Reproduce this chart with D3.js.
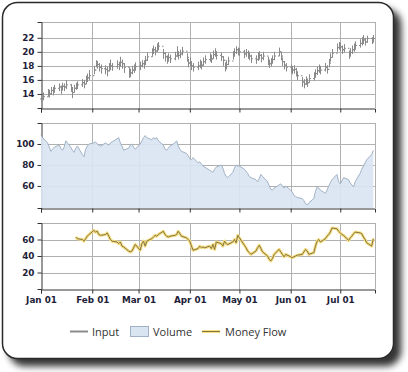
<!DOCTYPE html>
<html>
<head>
<meta charset="utf-8">
<script src="https://cdn.jsdelivr.net/npm/d3@7"></script>
<style>
  html, body { margin: 0; padding: 0; background: #fff; }
  svg { display: block; }
</style>
</head>
<body>
<div id="chart"></div>
<script>
/** Data (one value per trading day, Jan 1 - Jul 21) **/
const startDate = new Date(2009, 0, 1);
const endDate = new Date(2009, 6, 22);

const inputClose = [
  13.3, 13.6, 14.2, 14.0, 14.5, 14.3, 14.8, 15.0, 14.6, 15.1, 15.0, 15.3, 14.9, 14.2, 14.8, 15.1, 15.3, 15.6, 15.4, 16.0, 16.3, 16.6,
  17.4, 18.3, 18.2, 17.8, 17.6, 17.5, 17.3, 17.8, 18.0, 17.9, 18.2, 18.0, 18.5, 18.3, 17.8, 17.2, 17.0, 17.4, 17.6, 17.9,
  18.0, 18.3, 18.2, 18.8, 19.3, 19.9, 20.3, 20.1, 20.6, 20.8, 19.8, 19.3, 18.9, 19.2, 19.0, 19.4, 19.9, 19.5, 19.7, 20.1, 19.2, 18.4,
  18.6, 18.0, 17.8, 18.0, 18.3, 18.1, 18.6, 18.9, 19.2, 19.0, 19.6, 19.9, 19.5, 19.3, 18.8, 17.9, 18.2, 18.7, 19.5, 19.9, 20.3, 20.1,
  20.0, 19.7, 19.9, 19.6, 19.4, 19.0, 18.9, 19.3, 19.5, 19.1, 19.4, 18.7, 18.3, 18.5, 18.9, 19.4, 20.0, 19.4, 18.6, 18.1, 17.8,
  17.6, 17.4, 17.5, 17.1, 16.6, 15.7, 15.4, 15.9, 15.6, 16.2, 16.5, 16.9, 17.3, 17.6, 17.4, 17.8, 17.5, 18.4, 19.2, 19.8, 20.6, 20.9,
  20.7, 20.3, 20.5, 19.6, 19.9, 20.3, 20.6, 20.9, 21.2, 21.5, 21.7, 21.4, 21.9, 21.6, 21.9
];
const inputHigh = [
  13.8, 14.2, 14.7, 14.6, 15.0, 15.0, 15.3, 15.5, 15.2, 15.6, 15.5, 16.0, 15.4, 15.0, 15.3, 15.6, 15.8, 16.1, 16.0, 16.6, 16.9, 17.4,
  18.0, 18.8, 18.7, 18.4, 18.2, 18.1, 17.9, 18.4, 18.9, 18.4, 18.8, 18.6, 19.3, 18.9, 18.4, 17.8, 17.6, 18.0, 18.2, 18.5,
  18.6, 18.8, 18.8, 19.4, 19.9, 20.5, 20.9, 20.7, 21.2, 21.4, 20.4, 19.9, 19.5, 19.8, 19.6, 20.0, 20.8, 20.1, 20.3, 20.7, 19.8, 19.0,
  19.2, 18.6, 18.4, 18.6, 18.9, 18.7, 19.2, 19.5, 19.8, 19.6, 20.2, 20.5, 20.1, 19.9, 19.4, 18.5, 18.8, 19.3, 20.1, 20.5, 20.8, 20.6,
  20.5, 20.3, 20.4, 20.2, 20.0, 19.6, 19.5, 19.9, 20.1, 19.7, 20.0, 19.3, 18.9, 19.1, 19.5, 20.0, 20.6, 20.0, 19.2, 18.7, 18.4,
  18.2, 18.0, 18.1, 17.7, 17.2, 16.4, 16.1, 16.5, 16.2, 16.8, 17.1, 17.5, 17.9, 18.2, 18.0, 18.4, 18.1, 19.0, 19.8, 20.4, 21.2, 21.4,
  21.3, 20.9, 21.1, 20.2, 20.5, 20.9, 21.2, 21.5, 21.8, 22.1, 22.4, 22.0, 22.3, 22.1, 22.4
];
const inputLow = [
  12.9, 13.1, 13.6, 13.5, 13.9, 13.8, 14.2, 14.4, 14.0, 14.5, 14.4, 14.7, 14.3, 13.4, 14.2, 14.6, 14.7, 15.0, 14.8, 15.4, 15.7, 16.0,
  16.8, 17.8, 17.6, 17.2, 16.9, 16.8, 16.5, 17.2, 17.4, 17.3, 17.6, 17.4, 17.9, 17.6, 17.0, 16.3, 16.4, 16.8, 17.0, 17.3,
  17.4, 17.8, 17.6, 18.2, 18.7, 19.3, 19.7, 19.5, 20.0, 20.2, 19.0, 18.6, 18.3, 18.6, 18.4, 18.8, 19.3, 18.9, 19.1, 19.5, 18.6, 17.8,
  18.0, 17.4, 17.2, 17.4, 17.7, 17.5, 18.0, 18.3, 18.6, 18.4, 19.0, 19.3, 18.9, 18.7, 18.0, 17.2, 17.5, 18.1, 18.9, 19.3, 19.7, 19.5,
  19.4, 19.1, 19.3, 19.0, 18.8, 18.4, 18.3, 18.7, 18.9, 18.5, 18.8, 18.1, 17.7, 17.9, 18.3, 18.8, 19.4, 18.8, 18.0, 17.5, 17.2,
  17.0, 16.8, 16.9, 16.5, 16.0, 15.0, 14.8, 15.3, 15.0, 15.6, 15.9, 16.3, 16.7, 17.0, 16.8, 17.2, 16.9, 17.8, 18.6, 19.2, 20.0, 20.3,
  20.1, 19.7, 19.9, 19.0, 19.3, 19.7, 20.0, 20.3, 20.6, 20.9, 21.1, 20.9, 21.3, 21.1, 21.3
];
const volume = [
  108, 106, 101, 97, 93, 95, 97, 99, 96, 94, 97, 103, 97, 94, 92, 96, 98, 90, 88, 95, 98, 100,
  101, 102, 100, 99, 98, 101, 100, 99, 101, 102, 105, 106, 101, 98, 94, 96, 99, 100, 97, 95,
  100, 103, 106, 108, 106, 104, 106, 105, 106, 103, 99, 95, 94, 96, 98, 101, 103, 98, 95, 93, 91, 89,
  86, 85, 87, 82, 83, 81, 79, 78, 75, 74, 73, 76, 78, 80, 77, 72, 69, 68, 73, 77, 80, 79,
  79, 76, 74, 72, 69, 68, 66, 64, 67, 71, 69, 64, 60, 57, 56, 58, 61, 62, 60, 58, 60,
  56, 54, 51, 50, 49, 48, 46, 43, 42, 44, 48, 55, 59, 58, 56, 53, 56, 60, 63, 66, 71, 64,
  62, 65, 68, 66, 63, 61, 59, 64, 72, 76, 79, 82, 85, 90, 94
];
const moneyFlow = [
  null, null, null, null, null, null, null, null, null, null, null, null, null, null, null, 63, 61, 60, 58, 61, 64, 66,
  71, 69, 70, 66, 65, 66, 68, 64, 60, 58, 57, 55, 57, 52, 51, 46, 45, 46, 50, 54,
  47, 55, 58, 52, 58, 61, 63, 65, 64, 66, 70, 66, 64, 63, 64, 65, 66, 70, 67, 64, 62, 60,
  58, 52, 47, 49, 52, 50, 51, 50, 52, 49, 54, 48, 57, 55, 52, 58, 55, 54, 57, 60, 56, 65,
  62, 53, 50, 46, 44, 42, 46, 50, 53, 49, 45, 40, 36, 34, 37, 42, 48, 45, 42, 39, 42,
  39, 38, 39, 40, 41, 42, 45, 48, 46, 42, 44, 52, 58, 60, 57, 61, 64, 66, 69, 74, 73, 70,
  68, 66, 65, 59, 62, 64, 67, 69, 68, 67, 63, 60, 56, 52, 61
];

const inputTicks = [14, 16, 18, 20, 22];
const volumeTicks = [60, 80, 100];
const flowTicks = [20, 40, 60];
const legendLabels = ['Input', 'Volume', 'Money Flow'];

/** Trading days: weekdays in the range **/
const days = d3.timeDay
  .range(startDate, endDate)
  .filter((d) => d.getDay() !== 0 && d.getDay() !== 6);
if (days.length !== inputClose.length) console.warn('length mismatch', days.length, inputClose.length);

const rows = days.map((date, i) => ({
  date,
  close: inputClose[i],
  high: inputHigh[i],
  low: inputLow[i],
  open: i > 0 ? inputClose[i - 1] : inputClose[i],
  volume: volume[i],
  flow: moneyFlow[i],
}));

/** Svg, card and shadow **/
const W = 408, H = 372;
const svg = d3.select('#chart').append('svg').attr('width', W).attr('height', H);

const defs = svg.append('defs');
const shadow = defs.append('filter').attr('id', 'shadow')
  .attr('x', '-10%').attr('y', '-10%').attr('width', '125%').attr('height', '125%');
shadow.append('feGaussianBlur').attr('in', 'SourceAlpha').attr('stdDeviation', 3.5);
shadow.append('feOffset').attr('dx', 7).attr('dy', 7).attr('result', 'off');
shadow.append('feComponentTransfer').append('feFuncA').attr('type', 'linear').attr('slope', 0.8);
const merge = shadow.append('feMerge');
merge.append('feMergeNode');
merge.append('feMergeNode').attr('in', 'SourceGraphic');

svg.append('rect')
  .attr('x', 2.5).attr('y', 2.5).attr('width', 391).attr('height', 356)
  .attr('rx', 15).attr('ry', 15)
  .attr('fill', '#fff').attr('stroke', '#2a2a2a').attr('stroke-width', 1.5)
  .attr('filter', 'url(#shadow)');

/** Shared x scale **/
const left = 41, right = 375;
const x = d3.scaleTime().domain([startDate, endDate]).range([left, right]);
const months = d3.timeMonth.range(startDate, endDate);

const tickFont = "bold 8.8px 'DejaVu Sans', sans-serif";
const tickColor = '#1e1e38';
const gridColor = '#b0b0b0';

function panel(top, bottom, domain, ticks, showLabels) {
  const y = d3.scaleLinear().domain(domain).range([bottom, top]);
  const g = svg.append('g');

  // grid
  g.selectAll('.hg').data(ticks.concat([domain[1]])).join('line')
    .attr('x1', left).attr('x2', right)
    .attr('y1', (d) => Math.round(y(d)) + 0.5).attr('y2', (d) => Math.round(y(d)) + 0.5)
    .attr('stroke', gridColor).attr('stroke-width', 1);
  g.selectAll('.vg').data(months.slice(1).concat([endDate])).join('line')
    .attr('x1', (d) => Math.round(x(d)) + 0.5).attr('x2', (d) => Math.round(x(d)) + 0.5)
    .attr('y1', top).attr('y2', bottom)
    .attr('stroke', gridColor).attr('stroke-width', 1);

  // y axis
  const ya = g.append('g')
    .attr('transform', `translate(${left + 0.5},0)`)
    .call(d3.axisLeft(y).tickValues(ticks).tickSize(4).tickSizeOuter(4).tickPadding(3));
  ya.selectAll('text').style('font', tickFont).attr('fill', tickColor);
  ya.selectAll('line, path').attr('stroke', '#333');

  return { y, g, top, bottom, showLabels };
}

function bottomAxis(p) {
  const xa = svg.append('g')
    .attr('transform', `translate(0,${p.bottom + 0.5})`)
    .call(d3.axisBottom(x).tickValues(months).tickFormat(d3.timeFormat('%b %d'))
      .tickSize(4).tickSizeOuter(4).tickPadding(3));
  xa.selectAll('line, path').attr('stroke', '#333');
  xa.selectAll('text').style('font', tickFont).attr('fill', tickColor);
  if (!p.showLabels) xa.selectAll('text').remove();
}

/** Panel 1: Input (high-low bars) **/
const p1 = panel(22, 108, [12, 24.25], inputTicks, false);
const bars = p1.g.append('g').attr('stroke', '#8a8a8a').attr('stroke-width', 1);
bars.selectAll('.hl').data(rows).join('line')
  .attr('x1', (d) => Math.round(x(d.date)) + 0.5).attr('x2', (d) => Math.round(x(d.date)) + 0.5)
  .attr('y1', (d) => p1.y(d.high)).attr('y2', (d) => p1.y(d.low));
bars.selectAll('.cl').data(rows).join('line')
  .attr('x1', (d) => Math.round(x(d.date)) + 0.5).attr('x2', (d) => Math.round(x(d.date)) + 2)
  .attr('y1', (d) => p1.y(d.close)).attr('y2', (d) => p1.y(d.close));
bars.selectAll('.op').data(rows).join('line')
  .attr('x1', (d) => Math.round(x(d.date)) - 1).attr('x2', (d) => Math.round(x(d.date)) + 0.5)
  .attr('y1', (d) => p1.y(d.open)).attr('y2', (d) => p1.y(d.open));
bottomAxis(p1);

/** Panel 2: Volume (area) **/
const p2 = panel(123, 208, [39, 120], volumeTicks, false);
const area = d3.area().x((d) => x(d.date)).y0(p2.y(39)).y1((d) => p2.y(d.volume));
const vline = d3.line().x((d) => x(d.date)).y((d) => p2.y(d.volume));
p2.g.append('path').datum(rows).attr('d', area).attr('fill', '#dae5f2').attr('fill-opacity', 0.92);
p2.g.append('path').datum(rows).attr('d', vline).attr('fill', 'none')
  .attr('stroke', '#a2b2c6').attr('stroke-width', 1);
bottomAxis(p2);

/** Panel 3: Money Flow **/
const p3 = panel(223, 289, [0, 80], flowTicks, true);
const fline = d3.line().defined((d) => d.flow != null)
  .x((d) => x(d.date)).y((d) => p3.y(d.flow));
p3.g.append('path').datum(rows).attr('d', fline).attr('fill', 'none')
  .attr('stroke', '#f4dc80').attr('stroke-width', 3).attr('stroke-linejoin', 'round');
p3.g.append('path').datum(rows).attr('d', fline).attr('fill', 'none')
  .attr('stroke', '#857541').attr('stroke-width', 1).attr('stroke-linejoin', 'round');
bottomAxis(p3);

/** Legend **/
const legend = svg.append('g').style('font', "11px 'Open Sans', sans-serif").attr('fill', '#333');
const lx = [70, 130, 202];
legend.append('line').attr('x1', lx[0]).attr('x2', lx[0] + 18).attr('y1', 331.5).attr('y2', 331.5)
  .attr('stroke', '#8a8a8a').attr('stroke-width', 2);
legend.append('rect').attr('x', lx[1] + 0.5).attr('y', 326.5).attr('width', 18).attr('height', 10)
  .attr('fill', '#dae5f2').attr('stroke', '#a2b2c6');
legend.append('line').attr('x1', lx[2]).attr('x2', lx[2] + 18).attr('y1', 331.5).attr('y2', 331.5)
  .attr('stroke', '#f4dc80').attr('stroke-width', 3);
legend.append('line').attr('x1', lx[2]).attr('x2', lx[2] + 18).attr('y1', 331.5).attr('y2', 331.5)
  .attr('stroke', '#857541').attr('stroke-width', 1);
legend.selectAll('text').data(legendLabels).join('text')
  .attr('x', (d, i) => [92, 153, 225][i]).attr('y', 335.5)
  .text((d) => d);
</script>
</body>
</html>
